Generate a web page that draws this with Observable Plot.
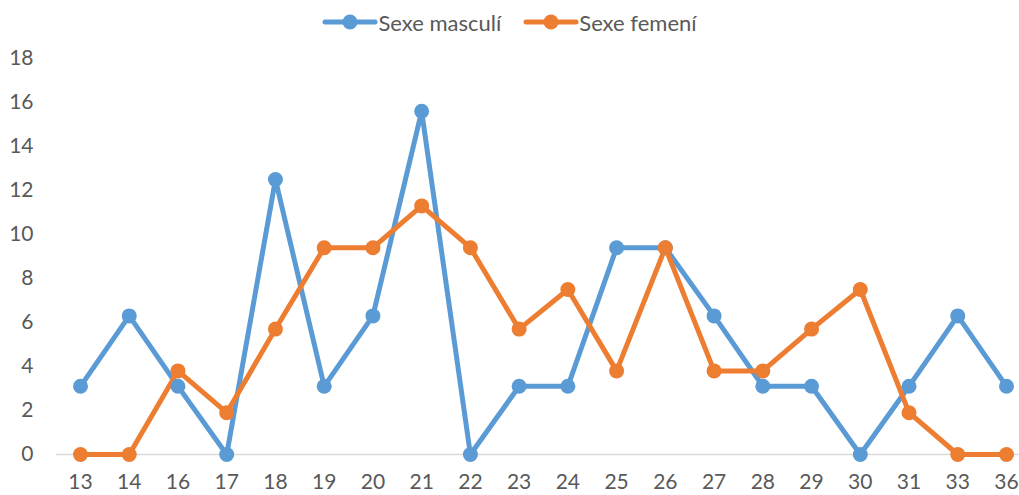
<!DOCTYPE html>
<html>
<head>
<meta charset="utf-8">
<script src="https://cdn.jsdelivr.net/npm/d3@7"></script>
<script src="https://cdn.jsdelivr.net/npm/@observablehq/plot@0.6"></script>
<style>
  html, body { margin: 0; padding: 0; background: #fff; }
  body { width: 1019px; height: 495px; overflow: hidden; font-family: Lato, "Open Sans", sans-serif; }
  #legend { height: 44px; display: flex; justify-content: center; align-items: center; gap: 22px; box-sizing: border-box; }
  .item { display: flex; align-items: center; font-size: 22px; color: #595959; }
</style>
</head>
<body>
<div id="legend"></div>
<div id="chart"></div>
<script>
const ages = ["13","14","16","17","18","19","20","21","22","23","24","25","26","27","28","29","30","31","33","36"];
const male = [3.1, 6.3, 3.1, 0, 12.5, 3.1, 6.3, 15.6, 0, 3.1, 3.1, 9.4, 9.4, 6.3, 3.1, 3.1, 0, 3.1, 6.3, 3.1];
const female = [0, 0, 3.8, 1.9, 5.7, 9.4, 9.4, 11.3, 9.4, 5.7, 7.5, 3.8, 9.4, 3.8, 3.8, 5.7, 7.5, 1.9, 0, 0];
const seriesNames = ["Sexe masculí", "Sexe femení"];
const seriesColors = ["#5B9BD5", "#ED7D31"];
const yTicks = [0, 2, 4, 6, 8, 10, 12, 14, 16, 18];

const data = [];
ages.forEach((a, i) => data.push({age: a, value: male[i], series: seriesNames[0]}));
ages.forEach((a, i) => data.push({age: a, value: female[i], series: seriesNames[1]}));

const legend = document.getElementById("legend");
seriesNames.forEach((name, i) => {
  const item = document.createElement("div");
  item.className = "item";
  item.innerHTML = `<svg width="56" height="18"><line x1="3" y1="9" x2="53" y2="9" stroke="${seriesColors[i]}" stroke-width="5" stroke-linecap="round"/><circle cx="28" cy="9" r="7.5" fill="${seriesColors[i]}"/></svg><span>${name}</span>`;
  legend.appendChild(item);
});

const chart = Plot.plot({
  width: 1019,
  height: 451,
  marginLeft: 80,
  marginRight: 13,
  marginTop: 14,
  marginBottom: 41,
  style: { fontFamily: "Lato, 'Open Sans', sans-serif", fontSize: "21px", color: "#595959", background: "#fff", maxWidth: "none" },
  x: { type: "point", domain: ages, padding: 0, round: false, label: null, tickSize: 0, tickPadding: 20 },
  y: { domain: [0, 18], ticks: yTicks, label: null, tickSize: 0, tickPadding: 47 },
  color: { domain: seriesNames, range: seriesColors },
  marks: [
    Plot.ruleY([0], { stroke: "#d9d9d9", strokeWidth: 1.5, insetLeft: -24, insetRight: -20 }),
    Plot.line(data, { x: "age", y: "value", z: "series", stroke: "series", strokeWidth: 5, strokeLinejoin: "round", strokeLinecap: "round" }),
    Plot.dot(data, { x: "age", y: "value", fill: "series", r: 7.5, stroke: null })
  ]
});
document.getElementById("chart").appendChild(chart);
</script>
</body>
</html>
